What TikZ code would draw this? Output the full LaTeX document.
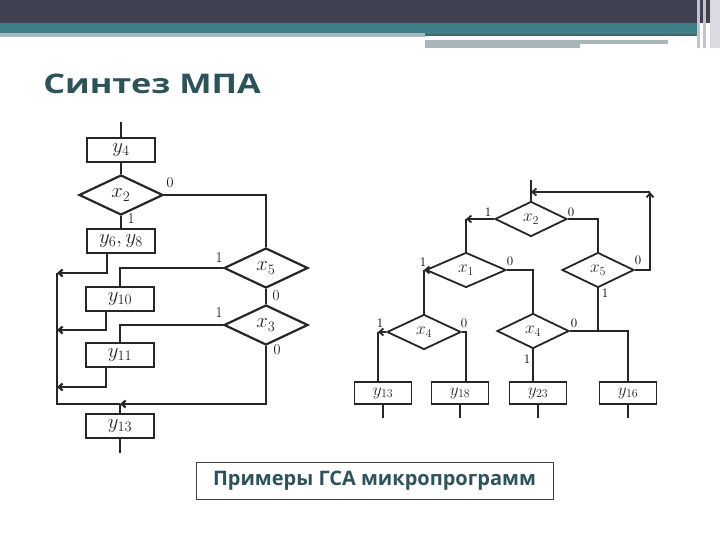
\documentclass[tikz,border=0pt]{standalone}
\usepackage{fontspec}
\newfontfamily\slidefont{Open Sans}
\usetikzlibrary{shapes.geometric,calc,arrows.meta}
\definecolor{hdrdark}{HTML}{404252}
\definecolor{hdrteal}{HTML}{3F7F86}
\definecolor{hdrgray}{HTML}{A8B6B9}
\definecolor{hdrstripe}{HTML}{C3C2CF}
\definecolor{slideteal}{HTML}{2D5358}

\begin{document}
\begin{tikzpicture}[x=1pt,y=-1pt,
    flow/.style={line width=2.2pt,black!85},
    thinflow/.style={line width=1.8pt,black!85},
    opbox/.style={draw,flow,minimum width=68pt,minimum height=24pt,inner sep=0pt,font=\fontsize{20}{20}\selectfont},
    cond/.style={diamond,draw,flow,minimum width=84pt,minimum height=40pt,inner sep=0pt,font=\fontsize{20}{20}\selectfont},
    opsmall/.style={opbox,thinflow,minimum width=57pt,minimum height=22pt,font=\fontsize{18}{18}\selectfont},
    condsmall/.style={cond,thinflow,minimum width=72pt,minimum height=35pt,font=\fontsize{17}{17}\selectfont},
    lbl/.style={font=\fontsize{15}{15}\selectfont,inner sep=0pt},
    slbl/.style={font=\fontsize{13}{13}\selectfont,inner sep=0pt},
    >={Straight Barb[length=4pt,width=7pt]}]
  \useasboundingbox (0,0) rectangle (720,540);
  % slide header
  \fill[hdrdark] (0,0) rectangle (720,23);
  \fill[hdrteal] (0,23) rectangle (700,34);
  \fill[hdrgray] (0,33) rectangle (425,37);
  \fill[hdrteal!85!black] (425,34) rectangle (700,36);
  \fill[hdrgray] (425,40) rectangle (668,44);
  \fill[hdrgray] (425,44) rectangle (580,48);
  \fill[hdrstripe] (697,0) rectangle (700,48);
  \fill[hdrstripe] (703,0) rectangle (706,48);
  \fill[hdrstripe!60!white] (710,0) rectangle (720,48);
  \node[anchor=base west,inner sep=0pt,text=slideteal,xscale=1.27] (title) at (43,94)
    {\slidefont\bfseries\fontsize{27}{27}\selectfont Синтез МПА};

  % left flowchart
  \node[opbox] (y4) at (121,150) {$y_4$};
  \node[cond] (x2L) at (121,195) {$x_2$};
  \node[opbox] (y68) at (121,241) {$y_6, y_8$};
  \node[cond] (x5L) at (266,268) {$x_5$};
  \node[opbox] (y10) at (120,299) {$y_{10}$};
  \node[cond] (x3L) at (266,325) {$x_3$};
  \node[opbox] (y11) at (120,355) {$y_{11}$};
  \node[opbox] (y13L) at (120,426) {$y_{13}$};
  \coordinate (inL) at (121,122);
  \coordinate (outL) at (120,453);
  \coordinate (m1) at (57,273);
  \coordinate (m2) at (57,330);
  \coordinate (m3) at (57,387);
  \coordinate (jL) at (120,404);
  \draw[flow] (inL) -- (y4);
  \draw[flow] (y4) -- (x2L);
  \draw[flow] (x2L) -- (y68);
  \draw[flow] (x2L.east) -| (x5L.north);
  \draw[flow] (x5L) -- (x3L);
  \draw[flow] (x5L.west) -| (y10.north);
  \draw[flow] (x3L.west) -| (y11.north);
  \draw[flow,->] ([xshift=-14pt]y68.south) |- (m1);
  \draw[flow,->] ([xshift=-14pt]y10.south) |- (m2);
  \draw[flow,->] ([xshift=-14pt]y11.south) |- (m3);
  \draw[flow] (m1) |- (jL);
  \draw[flow,->] (x3L.south) |- (jL);
  \draw[flow] (jL) -- (y13L);
  \draw[flow] (y13L) -- (outL);
  \node[lbl] at (170,183) {0};
  \node[lbl] at (131,219) {1};
  \node[lbl] at (219,258) {1};
  \node[lbl] at (276,296) {0};
  \node[lbl] at (219,313) {1};
  \node[lbl] at (277,350) {0};

  % right flowchart
  \node[condsmall] (x2R) at (531,219) {$x_2$};
  \node[condsmall,minimum width=80pt] (x1R) at (466,270) {$x_1$};
  \node[condsmall] (x5R) at (598,270) {$x_5$};
  \node[condsmall,minimum width=74pt] (x4a) at (424,332) {$x_4$};
  \node[condsmall] (x4b) at (533,331) {$x_4$};
  \node[opsmall] (y13R) at (383,393) {$y_{13}$};
  \node[opsmall] (y18) at (460,393) {$y_{18}$};
  \node[opsmall] (y23) at (538,393) {$y_{23}$};
  \node[opsmall] (y16) at (628,393) {$y_{16}$};
  \coordinate (inR) at (531,180);
  \coordinate (c1) at (650,192);
  \coordinate (c2) at (531,192);
  \coordinate (k1) at (466,219);
  \coordinate (k2) at (424,270);
  \coordinate (k3) at (378,332);
  \coordinate (k4) at (466,332);
  \draw[thinflow] (inR) -- (x2R);
  \draw[thinflow,->] (x5R.east) -| (c1);
  \draw[thinflow,->] (c1) -- (c2);
  \draw[thinflow] (x2R.east) -| (x5R.north);
  \draw[thinflow,->] (x2R.west) -- (k1);
  \draw[thinflow] (k1) -- (x1R.north);
  \draw[thinflow,->] (x1R.west) -- (k2);
  \draw[thinflow] (k2) -- (x4a.north);
  \draw[thinflow] (x1R.east) -| (x4b.north);
  \draw[thinflow,->] (x4a.west) -- (k3);
  \draw[thinflow] (k3) -- (k3 |- y13R.north);
  \draw[thinflow] (x4a.east) -- (k4) -- (k4 |- y18.north);
  \draw[thinflow] (x4b.south) -- (x4b.south |- y23.north);
  \draw[thinflow] (x4b.east) -| (y16.north);
  \draw[thinflow] (x5R.south) -- (x5R.south |- x4b.east);
  \foreach \b in {y13R,y18,y23,y16}
    \draw[thinflow] (\b.south) -- ++(0,13);
  \node[slbl] at (488,212) {1};
  \node[slbl] at (571,212) {0};
  \node[slbl] at (423,262) {1};
  \node[slbl] at (510,261) {0};
  \node[slbl] at (638,260) {0};
  \node[slbl] at (605,293) {1};
  \node[slbl] at (380,323) {1};
  \node[slbl] at (464,323) {0};
  \node[slbl] at (574,323) {0};
  \node[slbl] at (527,359) {1};

  % caption
  \node[draw=black!75,line width=0.8pt,minimum width=357pt,minimum height=37pt,inner sep=0pt,
        text=slideteal] (caption) at (374.5,480.5)
    {\slidefont\bfseries\fontsize{20}{20}\selectfont Примеры ГСА микропрограмм};
\end{tikzpicture}
\end{document}
